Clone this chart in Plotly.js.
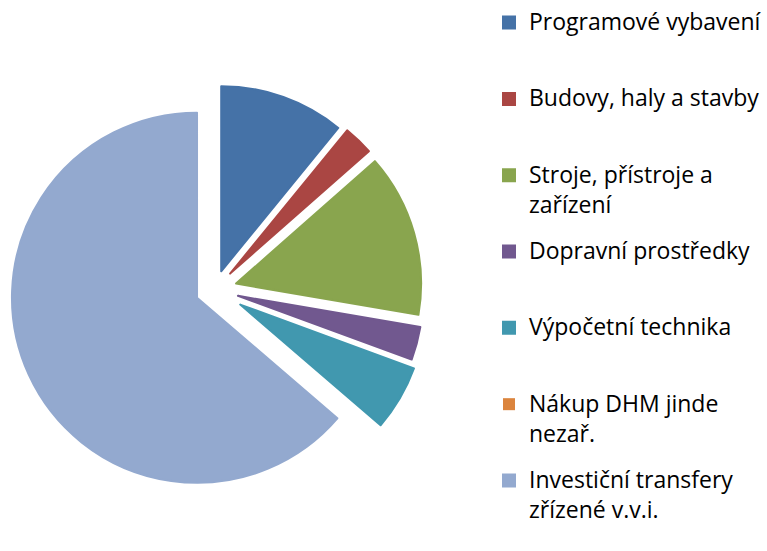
<!DOCTYPE html>
<html>
<head>
<meta charset="utf-8">
<script src="https://cdn.plot.ly/plotly-3.0.1.min.js"></script>
<style>html,body{margin:0;padding:0;background:#fff;}#chart{width:767px;height:551px;}</style>
</head>
<body>
<div id="chart"></div>
<script>
// Category names (legend lines as wrapped in the reference)
var categoryLines = [
  ["Programové vybavení"],
  ["Budovy, haly a stavby"],
  ["Stroje, přístroje a", "zařízení"],
  ["Dopravní prostředky"],
  ["Výpočetní technika"],
  ["Nákup DHM jinde", "nezař."],
  ["Investiční transfery", "zřízené v.v.i."]
];
// Share of each category (%)
var shares = [10.9, 2.6, 14.2, 2.9, 5.7, 0, 63.7];
var sliceColors = ["#4572A7", "#AA4643", "#89A54E", "#71588F", "#4198AF", "#DB843D", "#93A9CF"];
var explode = [0.105, 0.12, 0.12, 0.13, 0.16, 0, 0.105];
var edgeWidths = [2, 2, 2, 2, 2, 0, 2];

var glyph = 'font-size:23px';
function legendText(lines, isLast) {
  var parts = [];
  parts.push('<span style="' + glyph + '">' + lines[0] + '</span>');
  if (lines.length > 1) {
    parts.push('<span style="' + glyph + ';baseline-shift:-6px">' + lines[1] + '</span>');
  } else {
    parts.push(' ');
  }
  if (!isLast) parts.push(' ');
  return parts.join('<br>');
}
var labels = categoryLines.map(function (l, i) { return legendText(l, i === categoryLines.length - 1); });

var trace = {
  type: 'pie',
  labels: labels,
  values: shares,
  sort: false,
  direction: 'clockwise',
  rotation: 0,
  pull: explode,
  textinfo: 'none',
  hoverinfo: 'none',
  marker: { colors: sliceColors, line: { color: sliceColors, width: edgeWidths } },
  domain: { x: [0, 0.562], y: [0.0833, 0.8655] }
};

var layout = {
  width: 767,
  height: 551,
  margin: { l: 0, r: 0, t: 0, b: 0 },
  paper_bgcolor: '#ffffff',
  showlegend: true,
  legend: {
    x: 0.6402, xanchor: 'left',
    y: 0.993, yanchor: 'top',
    valign: 'top',
    bgcolor: 'rgba(0,0,0,0)',
    font: { family: 'Open Sans, sans-serif', size: 18.8, color: '#000000' },
    traceorder: 'normal'
  }
};

Plotly.newPlot('chart', [trace], layout, { displayModeBar: false, staticPlot: true });
</script>
</body>
</html>
